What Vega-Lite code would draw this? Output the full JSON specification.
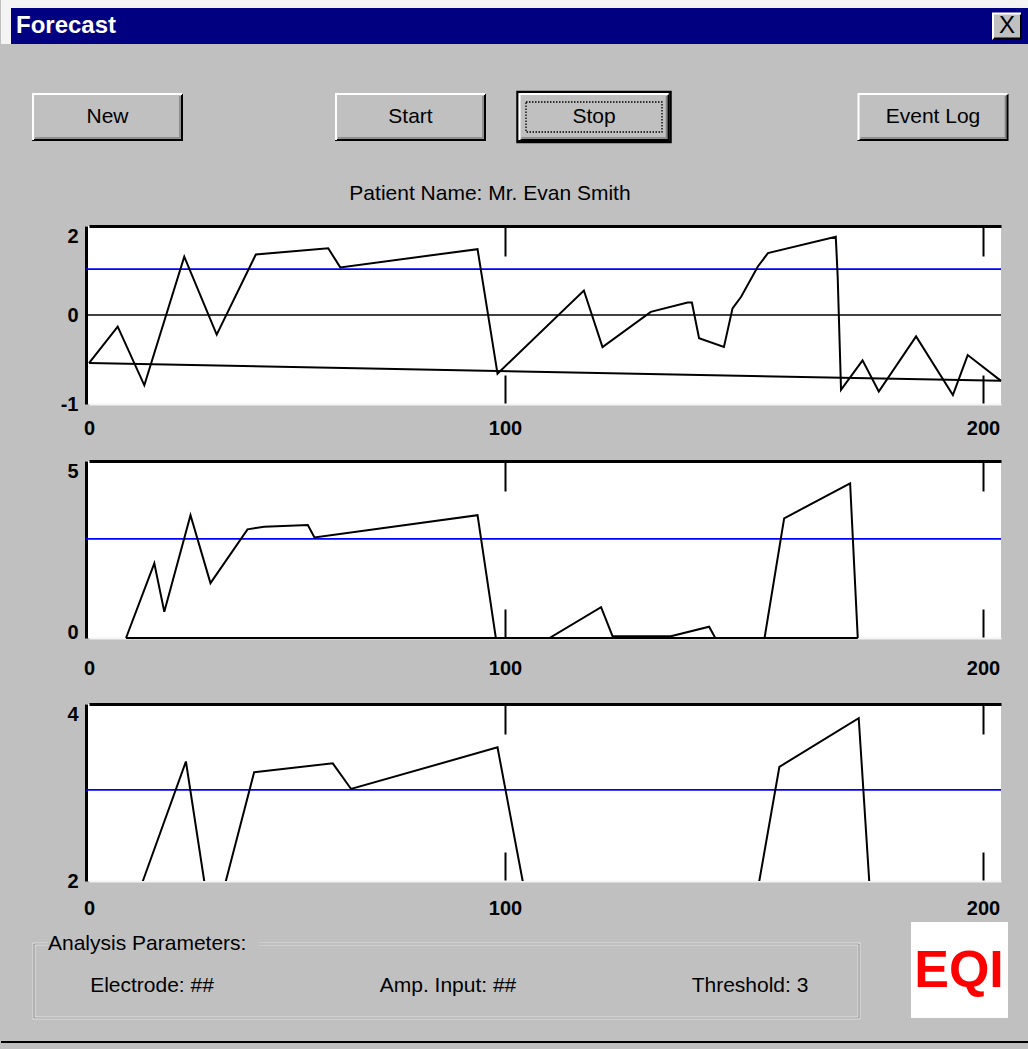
{
  "$schema": "https://vega.github.io/schema/vega-lite/v6.json",
  "padding": 0,
  "background": "#c0c0c0",
  "spacing": 0,
  "config": {
    "view": {"stroke": null},
    "font": "Liberation Sans",
    "axis": {"labelFont": "Liberation Sans", "grid": false}
  },
  "datasets": {
    "window": [{"edge": "highlight", "left": -1, "right": 8, "top": -1, "bottom": 2}],
    "titlebar": [{"caption": "Forecast", "left": 0, "right": 8, "top": 0, "bottom": 2, "col": 1, "row": 1}],
    "closebox": [{"glyph": "X", "col": 7, "row": 1}],
    "buttons": [
      {"label": "New", "col": 2, "row": 3, "state": "normal"},
      {"label": "Start", "col": 3, "row": 3, "state": "normal"},
      {"label": "Stop", "col": 5, "row": 3, "state": "focused"},
      {"label": "Event Log", "col": 6, "row": 3, "state": "normal"}
    ],
    "patient": [{"text": "Patient Name: Mr. Evan Smith", "col": 4, "row": 4}],
    "levels": [
      {"panel": 1, "kind": "zero", "level": 0},
      {"panel": 1, "kind": "threshold", "level": 1.03},
      {"panel": 2, "kind": "threshold", "level": 2.8},
      {"panel": 3, "kind": "threshold", "level": 3.03}
    ],
    "panel1": [
      {"series": "signal", "x": 0, "y": -0.54},
      {"series": "signal", "x": 6.9, "y": -0.13},
      {"series": "signal", "x": 13.3, "y": -0.79},
      {"series": "signal", "x": 22.9, "y": 1.31},
      {"series": "signal", "x": 30.7, "y": -0.22},
      {"series": "signal", "x": 40.1, "y": 1.36},
      {"series": "signal", "x": 57.5, "y": 1.5},
      {"series": "signal", "x": 60.4, "y": 1.07},
      {"series": "signal", "x": 93.4, "y": 1.48},
      {"series": "signal", "x": 98.2, "y": -0.66},
      {"series": "signal", "x": 116.5, "y": 0.55},
      {"series": "signal", "x": 120.4, "y": -0.36},
      {"series": "signal", "x": 130.5, "y": 0.07},
      {"series": "signal", "x": 138.2, "y": 0.28},
      {"series": "signal", "x": 139.1, "y": 0.28},
      {"series": "signal", "x": 140.6, "y": -0.26},
      {"series": "signal", "x": 145.8, "y": -0.36},
      {"series": "signal", "x": 147.6, "y": 0.15},
      {"series": "signal", "x": 149.4, "y": 0.41},
      {"series": "signal", "x": 152.9, "y": 1.09},
      {"series": "signal", "x": 155.0, "y": 1.39},
      {"series": "signal", "x": 169.2, "y": 1.76},
      {"series": "signal", "x": 169.6, "y": 0.86},
      {"series": "signal", "x": 170.3, "y": -0.84},
      {"series": "signal", "x": 174.8, "y": -0.51},
      {"series": "signal", "x": 178.2, "y": -0.86},
      {"series": "signal", "x": 186.0, "y": -0.24},
      {"series": "signal", "x": 193.7, "y": -0.9},
      {"series": "signal", "x": 196.8, "y": -0.45},
      {"series": "signal", "x": 203.8, "y": -0.74},
      {"series": "baseline", "x": 0, "y": -0.54},
      {"series": "baseline", "x": 98.2, "y": -0.63},
      {"series": "baseline", "x": 203.8, "y": -0.74}
    ],
    "panel2": [
      {"series": "signal", "x": 8.9, "y": 0},
      {"series": "signal", "x": 15.7, "y": 2.11},
      {"series": "signal", "x": 18.1, "y": 0.74},
      {"series": "signal", "x": 24.4, "y": 3.47},
      {"series": "signal", "x": 29.2, "y": 1.55},
      {"series": "signal", "x": 38.1, "y": 3.07},
      {"series": "signal", "x": 42.1, "y": 3.14},
      {"series": "signal", "x": 52.6, "y": 3.19},
      {"series": "signal", "x": 54.2, "y": 2.84},
      {"series": "signal", "x": 93.4, "y": 3.47},
      {"series": "signal", "x": 97.8, "y": 0},
      {"series": "signal", "x": 109.3, "y": 0},
      {"series": "signal", "x": 120.1, "y": 0.87},
      {"series": "signal", "x": 122.5, "y": 0.05},
      {"series": "signal", "x": 134.7, "y": 0.05},
      {"series": "signal", "x": 142.7, "y": 0.32},
      {"series": "signal", "x": 144.0, "y": 0},
      {"series": "signal", "x": 154.3, "y": 0},
      {"series": "signal", "x": 158.4, "y": 3.38},
      {"series": "signal", "x": 172.2, "y": 4.37},
      {"series": "signal", "x": 173.8, "y": 0},
      {"series": "baseline", "x": 8.9, "y": 0},
      {"series": "baseline", "x": 173.8, "y": 0}
    ],
    "panel3": [
      {"series": "signal", "x": 8.9, "y": 1.47},
      {"series": "signal", "x": 13.1, "y": 2.02},
      {"series": "signal", "x": 23.3, "y": 3.35},
      {"series": "signal", "x": 27.7, "y": 2.0},
      {"series": "signal", "x": 29.6, "y": 1.41},
      {"series": "signal", "x": 32.9, "y": 2.0},
      {"series": "signal", "x": 39.7, "y": 3.23},
      {"series": "signal", "x": 58.6, "y": 3.33},
      {"series": "signal", "x": 63.0, "y": 3.04},
      {"series": "signal", "x": 98.2, "y": 3.51},
      {"series": "signal", "x": 103.7, "y": 2.0},
      {"series": "signal", "x": 109.3, "y": 0.5},
      {"series": "signal", "x": 148.0, "y": 0.5},
      {"series": "signal", "x": 153.2, "y": 2.0},
      {"series": "signal", "x": 157.4, "y": 3.29},
      {"series": "signal", "x": 174.0, "y": 3.84},
      {"series": "signal", "x": 176.2, "y": 2.0},
      {"series": "signal", "x": 177.5, "y": 0.9}
    ],
    "groupbox": [{"caption": "Analysis Parameters:", "left": 1, "right": 7, "top": 1, "bottom": 4, "capLeft": 2, "capRight": 4}],
    "params": [
      {"text": "Electrode: ##", "col": 3, "row": 3},
      {"text": "Amp. Input: ##", "col": 5, "row": 3},
      {"text": "Threshold: 3", "col": 6, "row": 3}
    ],
    "logo": [{"text": "EQI", "left": 8, "right": 10, "top": 0, "bottom": 4, "col": 9, "row": 2}],
    "frame": [{"edge": "bottom", "from": 0, "to": 11, "row": 5}]
  },
  "vconcat": [
    {
      "width": 943,
      "height": 225,
      "layer": [
        {
          "data": {"name": "window"},
          "mark": {"type": "rect", "color": "#f4f4f4"},
          "encoding": {
            "x": {"field": "left", "type": "quantitative", "scale": {"domain": [-1,0,1,2,3,4,5,6,7,8], "range": [-85,-75,-70,21.5,324.5,404,508,847,921,943], "nice": false, "zero": false}, "axis": null},
            "x2": {"field": "right"},
            "y": {"field": "top", "type": "quantitative", "scale": {"domain": [-1,0,1,2,3,4], "range": [0,8,26,44,117,194], "nice": false, "zero": false}, "axis": null},
            "y2": {"field": "bottom"}
          }
        },
        {
          "data": {"name": "titlebar"},
          "mark": {"type": "rect", "color": "#000080"},
          "encoding": {
            "x": {"field": "left", "type": "quantitative", "scale": {"domain": [-1,0,1,2,3,4,5,6,7,8], "range": [-85,-75,-70,21.5,324.5,404,508,847,921,943], "nice": false, "zero": false}, "axis": null},
            "x2": {"field": "right"},
            "y": {"field": "top", "type": "quantitative", "scale": {"domain": [-1,0,1,2,3,4], "range": [0,8,26,44,117,194], "nice": false, "zero": false}, "axis": null},
            "y2": {"field": "bottom"}
          }
        },
        {
          "data": {"name": "titlebar"},
          "mark": {"type": "text", "color": "#ffffff", "fontSize": 24, "fontWeight": "bold", "align": "left", "baseline": "middle", "font": "Liberation Sans"},
          "encoding": {
            "x": {"field": "col", "type": "quantitative", "scale": {"domain": [-1,0,1,2,3,4,5,6,7,8], "range": [-85,-75,-70,21.5,324.5,404,508,847,921,943], "nice": false, "zero": false}, "axis": null},
            "y": {"field": "row", "type": "quantitative", "scale": {"domain": [-1,0,1,2,3,4], "range": [0,8,26,44,117,194], "nice": false, "zero": false}, "axis": null},
            "text": {"field": "caption"}
          }
        },
        {
          "data": {"name": "closebox"},
          "mark": {"type": "point", "shape": "M-1,-0.8929H1V0.8929H-1Z", "size": 784, "filled": true, "fill": "#c0c0c0", "strokeWidth": 0, "opacity": 1},
          "encoding": {
            "x": {"field": "col", "type": "quantitative", "scale": {"domain": [-1,0,1,2,3,4,5,6,7,8], "range": [-85,-75,-70,21.5,324.5,404,508,847,921,943], "nice": false, "zero": false}, "axis": null},
            "y": {"field": "row", "type": "quantitative", "scale": {"domain": [-1,0,1,2,3,4], "range": [0,8,26,44,117,194], "nice": false, "zero": false}, "axis": null}
          }
        },
        {
          "data": {"name": "closebox"},
          "mark": {"type": "point", "shape": "M-1,-0.8929H1V0.8929H-1Z", "size": 784, "filled": false, "stroke": "#000000", "strokeWidth": 2, "strokeDash": [53, 53], "strokeDashOffset": 78, "opacity": 1},
          "encoding": {
            "x": {"field": "col", "type": "quantitative", "scale": {"domain": [-1,0,1,2,3,4,5,6,7,8], "range": [-85,-75,-70,21.5,324.5,404,508,847,921,943], "nice": false, "zero": false}, "axis": null},
            "y": {"field": "row", "type": "quantitative", "scale": {"domain": [-1,0,1,2,3,4], "range": [0,8,26,44,117,194], "nice": false, "zero": false}, "axis": null}
          }
        },
        {
          "data": {"name": "closebox"},
          "mark": {"type": "point", "shape": "M-1,-0.8929H1V0.8929H-1Z", "size": 784, "filled": false, "stroke": "#ffffff", "strokeWidth": 2, "strokeDash": [53, 53], "strokeDashOffset": 25, "opacity": 1},
          "encoding": {
            "x": {"field": "col", "type": "quantitative", "scale": {"domain": [-1,0,1,2,3,4,5,6,7,8], "range": [-85,-75,-70,21.5,324.5,404,508,847,921,943], "nice": false, "zero": false}, "axis": null},
            "y": {"field": "row", "type": "quantitative", "scale": {"domain": [-1,0,1,2,3,4], "range": [0,8,26,44,117,194], "nice": false, "zero": false}, "axis": null}
          }
        },
        {
          "data": {"name": "closebox"},
          "mark": {"type": "text", "color": "#000000", "fontSize": 24, "align": "center", "baseline": "middle", "font": "Liberation Sans"},
          "encoding": {
            "x": {"field": "col", "type": "quantitative", "scale": {"domain": [-1,0,1,2,3,4,5,6,7,8], "range": [-85,-75,-70,21.5,324.5,404,508,847,921,943], "nice": false, "zero": false}, "axis": null},
            "y": {"field": "row", "type": "quantitative", "scale": {"domain": [-1,0,1,2,3,4], "range": [0,8,26,44,117,194], "nice": false, "zero": false}, "axis": null},
            "text": {"field": "glyph"}
          }
        },
        {
          "data": {"name": "buttons"},
          "transform": [{"filter": "datum.state == 'focused'"}],
          "mark": {"type": "point", "shape": "M-1,-0.3268H1V0.3268H-1Z", "size": 23409, "filled": false, "stroke": "#000000", "strokeWidth": 2.5, "opacity": 1},
          "encoding": {
            "x": {"field": "col", "type": "quantitative", "scale": {"domain": [-1,0,1,2,3,4,5,6,7,8], "range": [-85,-75,-70,21.5,324.5,404,508,847,921,943], "nice": false, "zero": false}, "axis": null},
            "y": {"field": "row", "type": "quantitative", "scale": {"domain": [-1,0,1,2,3,4], "range": [0,8,26,44,117,194], "nice": false, "zero": false}, "axis": null}
          }
        },
        {
          "data": {"name": "buttons"},
          "mark": {"type": "point", "shape": "M-1,-0.3087H1V0.3087H-1Z", "size": 22201, "filled": true, "fill": "#c0c0c0", "strokeWidth": 0, "opacity": 1},
          "encoding": {
            "x": {"field": "col", "type": "quantitative", "scale": {"domain": [-1,0,1,2,3,4,5,6,7,8], "range": [-85,-75,-70,21.5,324.5,404,508,847,921,943], "nice": false, "zero": false}, "axis": null},
            "y": {"field": "row", "type": "quantitative", "scale": {"domain": [-1,0,1,2,3,4], "range": [0,8,26,44,117,194], "nice": false, "zero": false}, "axis": null}
          }
        },
        {
          "data": {"name": "buttons"},
          "mark": {"type": "point", "shape": "M-1,-0.2897H1V0.2897H-1Z", "size": 21025, "filled": false, "stroke": "#808080", "strokeWidth": 1.5, "strokeDash": [187, 187], "strokeDashOffset": 229, "opacity": 1},
          "encoding": {
            "x": {"field": "col", "type": "quantitative", "scale": {"domain": [-1,0,1,2,3,4,5,6,7,8], "range": [-85,-75,-70,21.5,324.5,404,508,847,921,943], "nice": false, "zero": false}, "axis": null},
            "y": {"field": "row", "type": "quantitative", "scale": {"domain": [-1,0,1,2,3,4], "range": [0,8,26,44,117,194], "nice": false, "zero": false}, "axis": null}
          }
        },
        {
          "data": {"name": "buttons"},
          "mark": {"type": "point", "shape": "M-1,-0.3087H1V0.3087H-1Z", "size": 22201, "filled": false, "stroke": "#000000", "strokeWidth": 2, "strokeDash": [195, 195], "strokeDashOffset": 241, "opacity": 1},
          "encoding": {
            "x": {"field": "col", "type": "quantitative", "scale": {"domain": [-1,0,1,2,3,4,5,6,7,8], "range": [-85,-75,-70,21.5,324.5,404,508,847,921,943], "nice": false, "zero": false}, "axis": null},
            "y": {"field": "row", "type": "quantitative", "scale": {"domain": [-1,0,1,2,3,4], "range": [0,8,26,44,117,194], "nice": false, "zero": false}, "axis": null}
          }
        },
        {
          "data": {"name": "buttons"},
          "mark": {"type": "point", "shape": "M-1,-0.3087H1V0.3087H-1Z", "size": 22201, "filled": false, "stroke": "#ffffff", "strokeWidth": 2, "strokeDash": [195, 195], "strokeDashOffset": 46, "opacity": 1},
          "encoding": {
            "x": {"field": "col", "type": "quantitative", "scale": {"domain": [-1,0,1,2,3,4,5,6,7,8], "range": [-85,-75,-70,21.5,324.5,404,508,847,921,943], "nice": false, "zero": false}, "axis": null},
            "y": {"field": "row", "type": "quantitative", "scale": {"domain": [-1,0,1,2,3,4], "range": [0,8,26,44,117,194], "nice": false, "zero": false}, "axis": null}
          }
        },
        {
          "data": {"name": "buttons"},
          "transform": [{"filter": "datum.state == 'focused'"}],
          "mark": {"type": "point", "shape": "M-1,-0.2206H1V0.2206H-1Z", "size": 18496, "filled": false, "stroke": "#000000", "strokeWidth": 1.3, "strokeDash": [1.5, 1.5], "opacity": 1},
          "encoding": {
            "x": {"field": "col", "type": "quantitative", "scale": {"domain": [-1,0,1,2,3,4,5,6,7,8], "range": [-85,-75,-70,21.5,324.5,404,508,847,921,943], "nice": false, "zero": false}, "axis": null},
            "y": {"field": "row", "type": "quantitative", "scale": {"domain": [-1,0,1,2,3,4], "range": [0,8,26,44,117,194], "nice": false, "zero": false}, "axis": null}
          }
        },
        {
          "data": {"name": "buttons"},
          "mark": {"type": "text", "color": "#000000", "fontSize": 21, "align": "center", "baseline": "middle", "font": "Liberation Sans"},
          "encoding": {
            "x": {"field": "col", "type": "quantitative", "scale": {"domain": [-1,0,1,2,3,4,5,6,7,8], "range": [-85,-75,-70,21.5,324.5,404,508,847,921,943], "nice": false, "zero": false}, "axis": null},
            "y": {"field": "row", "type": "quantitative", "scale": {"domain": [-1,0,1,2,3,4], "range": [0,8,26,44,117,194], "nice": false, "zero": false}, "axis": null},
            "text": {"field": "label"}
          }
        },
        {
          "data": {"name": "patient"},
          "mark": {"type": "text", "color": "#000000", "fontSize": 21, "align": "center", "baseline": "middle", "font": "Liberation Sans"},
          "encoding": {
            "x": {"field": "col", "type": "quantitative", "scale": {"domain": [-1,0,1,2,3,4,5,6,7,8], "range": [-85,-75,-70,21.5,324.5,404,508,847,921,943], "nice": false, "zero": false}, "axis": null},
            "y": {"field": "row", "type": "quantitative", "scale": {"domain": [-1,0,1,2,3,4], "range": [0,8,26,44,117,194], "nice": false, "zero": false}, "axis": null},
            "text": {"field": "text"}
          }
        }
      ]
    },
    {
      "width": 915,
      "height": 178,
      "view": {"fill": "#ffffff", "stroke": null},
      "resolve": {"axis": {"x": "independent"}},
      "layer": [
        {
          "data": {"name": "levels"},
          "transform": [{"filter": "datum.panel == 1"}],
          "mark": {"type": "rule", "strokeWidth": 1.6},
          "encoding": {
            "y": {"field": "level", "type": "quantitative", "scale": {"domain": [-1, 0, 2], "range": [178, 89, 0], "nice": false, "zero": false},
              "axis": {"orient": "left", "values": [-1, 0, 2], "labelExpr": "datum.value < 0 ? '-' + abs(datum.value) : datum.label", "title": null, "grid": false, "ticks": false, "domain": true, "domainColor": "#000000", "domainWidth": 3, "labelFontSize": 20, "labelFontWeight": "bold", "labelColor": "#000000", "labelPadding": 8, "labelFlush": false, "labelOverlap": false, "labelBaseline": {"condition": {"test": "datum.value == 2", "value": "top"}, "value": "middle"}, "minExtent": 85, "maxExtent": 85}},
            "color": {"field": "kind", "type": "nominal", "scale": {"domain": ["threshold", "zero"], "range": ["#0000ff", "#000000"]}, "legend": null}
          }
        },
        {
          "data": {"name": "panel1"},
          "mark": {"type": "line", "color": "#000000", "strokeWidth": 2},
          "encoding": {
            "x": {"field": "x", "type": "quantitative", "scale": {"domain": [0, 100, 200, 203.8], "range": [3, 419, 897, 915], "nice": false, "zero": false},
              "axis": {"orient": "bottom", "values": [0, 100, 200], "title": null, "grid": false, "tickSize": -29, "tickWidth": 2, "tickColor": "#000000", "tickOpacity": {"condition": {"test": "datum.value == 0", "value": 0}, "value": 1}, "labelFontSize": 20, "labelFontWeight": "bold", "labelColor": "#000000", "labelPadding": 43, "labelFlush": false, "labelOverlap": false, "domain": true, "domainColor": "#f4f4f4", "domainWidth": 2, "minExtent": 56, "maxExtent": 56}},
            "y": {"field": "y", "type": "quantitative", "scale": {"domain": [-1, 0, 2], "range": [178, 89, 0], "nice": false, "zero": false},
              "axis": {"orient": "left", "values": [-1, 0, 2], "labelExpr": "datum.value < 0 ? '-' + abs(datum.value) : datum.label", "title": null, "grid": false, "ticks": false, "domain": true, "domainColor": "#000000", "domainWidth": 3, "labelFontSize": 20, "labelFontWeight": "bold", "labelColor": "#000000", "labelPadding": 8, "labelFlush": false, "labelOverlap": false, "labelBaseline": {"condition": {"test": "datum.value == 2", "value": "top"}, "value": "middle"}, "minExtent": 85, "maxExtent": 85}},
            "detail": {"field": "series", "type": "nominal"}
          }
        },
        {
          "data": {"name": "panel1"},
          "mark": {"type": "point", "opacity": 0},
          "encoding": {
            "x": {"field": "x", "type": "quantitative", "scale": {"domain": [0, 100, 200, 203.8], "range": [3, 419, 897, 915], "nice": false, "zero": false},
              "axis": {"orient": "top", "values": [100, 200], "title": null, "grid": false, "labels": false, "ticks": true, "tickSize": -30, "tickWidth": 2, "tickColor": "#000000", "domain": true, "domainColor": "#000000", "domainWidth": 3, "minExtent": 0, "maxExtent": 0}}
          }
        }
      ]
    },
    {
      "width": 915,
      "height": 177,
      "view": {"fill": "#ffffff", "stroke": null},
      "resolve": {"axis": {"x": "independent"}},
      "layer": [
        {
          "data": {"name": "levels"},
          "transform": [{"filter": "datum.panel == 2"}],
          "mark": {"type": "rule", "strokeWidth": 1.6},
          "encoding": {
            "y": {"field": "level", "type": "quantitative", "scale": {"domain": [0, 5], "nice": false, "zero": false},
              "axis": {"orient": "left", "values": [0, 5], "title": null, "grid": false, "ticks": false, "domain": true, "domainColor": "#000000", "domainWidth": 3, "labelFontSize": 20, "labelFontWeight": "bold", "labelColor": "#000000", "labelPadding": 8, "labelFlush": false, "labelOverlap": false, "labelBaseline": {"condition": {"test": "datum.value == 5", "value": "top"}, "value": "alphabetic"}, "minExtent": 85, "maxExtent": 85}},
            "color": {"field": "kind", "type": "nominal", "scale": {"domain": ["threshold", "zero"], "range": ["#0000ff", "#000000"]}, "legend": null}
          }
        },
        {
          "data": {"name": "panel2"},
          "mark": {"type": "line", "color": "#000000", "strokeWidth": 2},
          "encoding": {
            "x": {"field": "x", "type": "quantitative", "scale": {"domain": [0, 100, 200, 203.8], "range": [3, 419, 897, 915], "nice": false, "zero": false},
              "axis": {"orient": "bottom", "values": [0, 100, 200], "title": null, "grid": false, "tickSize": -29, "tickWidth": 2, "tickColor": "#000000", "tickOpacity": {"condition": {"test": "datum.value == 0", "value": 0}, "value": 1}, "labelFontSize": 20, "labelFontWeight": "bold", "labelColor": "#000000", "labelPadding": 49, "labelFlush": false, "labelOverlap": false, "domain": true, "domainColor": "#f4f4f4", "domainWidth": 2, "minExtent": 65, "maxExtent": 65}},
            "y": {"field": "y", "type": "quantitative", "scale": {"domain": [0, 5], "nice": false, "zero": false},
              "axis": {"orient": "left", "values": [0, 5], "title": null, "grid": false, "ticks": false, "domain": true, "domainColor": "#000000", "domainWidth": 3, "labelFontSize": 20, "labelFontWeight": "bold", "labelColor": "#000000", "labelPadding": 8, "labelFlush": false, "labelOverlap": false, "labelBaseline": {"condition": {"test": "datum.value == 5", "value": "top"}, "value": "alphabetic"}, "minExtent": 85, "maxExtent": 85}},
            "detail": {"field": "series", "type": "nominal"}
          }
        },
        {
          "data": {"name": "panel2"},
          "mark": {"type": "point", "opacity": 0},
          "encoding": {
            "x": {"field": "x", "type": "quantitative", "scale": {"domain": [0, 100, 200, 203.8], "range": [3, 419, 897, 915], "nice": false, "zero": false},
              "axis": {"orient": "top", "values": [100, 200], "title": null, "grid": false, "labels": false, "ticks": true, "tickSize": -30, "tickWidth": 2, "tickColor": "#000000", "domain": true, "domainColor": "#000000", "domainWidth": 3, "minExtent": 0, "maxExtent": 0}}
          }
        }
      ]
    },
    {
      "width": 915,
      "height": 177,
      "view": {"fill": "#ffffff", "stroke": null},
      "resolve": {"axis": {"x": "independent"}},
      "layer": [
        {
          "data": {"name": "levels"},
          "transform": [{"filter": "datum.panel == 3"}],
          "mark": {"type": "rule", "strokeWidth": 1.6},
          "encoding": {
            "y": {"field": "level", "type": "quantitative", "scale": {"domain": [2, 4], "nice": false, "zero": false},
              "axis": {"orient": "left", "values": [2, 4], "title": null, "grid": false, "ticks": false, "domain": true, "domainColor": "#000000", "domainWidth": 3, "labelFontSize": 20, "labelFontWeight": "bold", "labelColor": "#000000", "labelPadding": 8, "labelFlush": false, "labelOverlap": false, "labelBaseline": {"condition": {"test": "datum.value == 4", "value": "top"}, "value": "middle"}, "minExtent": 85, "maxExtent": 85}},
            "color": {"field": "kind", "type": "nominal", "scale": {"domain": ["threshold", "zero"], "range": ["#0000ff", "#000000"]}, "legend": null}
          }
        },
        {
          "data": {"name": "panel3"},
          "mark": {"type": "line", "color": "#000000", "strokeWidth": 2, "clip": true},
          "encoding": {
            "x": {"field": "x", "type": "quantitative", "scale": {"domain": [0, 100, 200, 203.8], "range": [3, 419, 897, 915], "nice": false, "zero": false},
              "axis": {"orient": "bottom", "values": [0, 100, 200], "title": null, "grid": false, "tickSize": -29, "tickWidth": 2, "tickColor": "#000000", "tickOpacity": {"condition": {"test": "datum.value == 0", "value": 0}, "value": 1}, "labelFontSize": 20, "labelFontWeight": "bold", "labelColor": "#000000", "labelPadding": 46, "labelFlush": false, "labelOverlap": false, "domain": true, "domainColor": "#f4f4f4", "domainWidth": 2, "minExtent": 41, "maxExtent": 41}},
            "y": {"field": "y", "type": "quantitative", "scale": {"domain": [2, 4], "nice": false, "zero": false},
              "axis": {"orient": "left", "values": [2, 4], "title": null, "grid": false, "ticks": false, "domain": true, "domainColor": "#000000", "domainWidth": 3, "labelFontSize": 20, "labelFontWeight": "bold", "labelColor": "#000000", "labelPadding": 8, "labelFlush": false, "labelOverlap": false, "labelBaseline": {"condition": {"test": "datum.value == 4", "value": "top"}, "value": "middle"}, "minExtent": 85, "maxExtent": 85}},
            "detail": {"field": "series", "type": "nominal"}
          }
        },
        {
          "data": {"name": "panel3"},
          "mark": {"type": "point", "opacity": 0},
          "encoding": {
            "x": {"field": "x", "type": "quantitative", "scale": {"domain": [0, 100, 200, 203.8], "range": [3, 419, 897, 915], "nice": false, "zero": false},
              "axis": {"orient": "top", "values": [100, 200], "title": null, "grid": false, "labels": false, "ticks": true, "tickSize": -30, "tickWidth": 2, "tickColor": "#000000", "domain": true, "domainColor": "#000000", "domainWidth": 3, "minExtent": 0, "maxExtent": 0}}
          }
        }
      ]
    },
    {
      "width": 943,
      "height": 128,
      "layer": [
        {
          "data": {"name": "groupbox"},
          "mark": {"type": "rect", "fillOpacity": 0, "stroke": "#ffffff", "strokeWidth": 2.5},
          "encoding": {
            "x": {"field": "left", "type": "quantitative", "scale": {"domain": [0,1,2,3,4,5,6,7,8,9,10,11], "range": [-85,-52,-38,66,173,362,664,773,825,873,922,943], "nice": false, "zero": false}, "axis": null},
            "x2": {"field": "right"},
            "y": {"field": "top", "type": "quantitative", "scale": {"domain": [0,1,2,3,4,5], "range": [0,22,49,64,96,120], "nice": false, "zero": false}, "axis": null},
            "y2": {"field": "bottom"}
          }
        },
        {
          "data": {"name": "groupbox"},
          "mark": {"type": "rect", "fillOpacity": 0, "stroke": "#808080", "strokeWidth": 1.2},
          "encoding": {
            "x": {"field": "left", "type": "quantitative", "scale": {"domain": [0,1,2,3,4,5,6,7,8,9,10,11], "range": [-85,-52,-38,66,173,362,664,773,825,873,922,943], "nice": false, "zero": false}, "axis": null},
            "x2": {"field": "right"},
            "y": {"field": "top", "type": "quantitative", "scale": {"domain": [0,1,2,3,4,5], "range": [0,22,49,64,96,120], "nice": false, "zero": false}, "axis": null},
            "y2": {"field": "bottom"}
          }
        },
        {
          "data": {"name": "groupbox"},
          "mark": {"type": "rule", "color": "#c0c0c0", "strokeWidth": 6},
          "encoding": {
            "x": {"field": "capLeft", "type": "quantitative", "scale": {"domain": [0,1,2,3,4,5,6,7,8,9,10,11], "range": [-85,-52,-38,66,173,362,664,773,825,873,922,943], "nice": false, "zero": false}, "axis": null},
            "x2": {"field": "capRight"},
            "y": {"field": "top", "type": "quantitative", "scale": {"domain": [0,1,2,3,4,5], "range": [0,22,49,64,96,120], "nice": false, "zero": false}, "axis": null}
          }
        },
        {
          "data": {"name": "groupbox"},
          "mark": {"type": "text", "color": "#000000", "fontSize": 21, "align": "left", "baseline": "middle", "font": "Liberation Sans"},
          "encoding": {
            "x": {"field": "capLeft", "type": "quantitative", "scale": {"domain": [0,1,2,3,4,5,6,7,8,9,10,11], "range": [-85,-52,-38,66,173,362,664,773,825,873,922,943], "nice": false, "zero": false}, "axis": null},
            "y": {"field": "top", "type": "quantitative", "scale": {"domain": [0,1,2,3,4,5], "range": [0,22,49,64,96,120], "nice": false, "zero": false}, "axis": null},
            "text": {"field": "caption"}
          }
        },
        {
          "data": {"name": "params"},
          "mark": {"type": "text", "color": "#000000", "fontSize": 21, "align": "center", "baseline": "middle", "font": "Liberation Sans"},
          "encoding": {
            "x": {"field": "col", "type": "quantitative", "scale": {"domain": [0,1,2,3,4,5,6,7,8,9,10,11], "range": [-85,-52,-38,66,173,362,664,773,825,873,922,943], "nice": false, "zero": false}, "axis": null},
            "y": {"field": "row", "type": "quantitative", "scale": {"domain": [0,1,2,3,4,5], "range": [0,22,49,64,96,120], "nice": false, "zero": false}, "axis": null},
            "text": {"field": "text"}
          }
        },
        {
          "data": {"name": "logo"},
          "mark": {"type": "rect", "color": "#ffffff"},
          "encoding": {
            "x": {"field": "left", "type": "quantitative", "scale": {"domain": [0,1,2,3,4,5,6,7,8,9,10,11], "range": [-85,-52,-38,66,173,362,664,773,825,873,922,943], "nice": false, "zero": false}, "axis": null},
            "x2": {"field": "right"},
            "y": {"field": "top", "type": "quantitative", "scale": {"domain": [0,1,2,3,4,5], "range": [0,22,49,64,96,120], "nice": false, "zero": false}, "axis": null},
            "y2": {"field": "bottom"}
          }
        },
        {
          "data": {"name": "logo"},
          "mark": {"type": "text", "color": "#ff0000", "fontSize": 52, "fontWeight": "bold", "align": "center", "baseline": "middle", "font": "Liberation Sans"},
          "encoding": {
            "x": {"field": "col", "type": "quantitative", "scale": {"domain": [0,1,2,3,4,5,6,7,8,9,10,11], "range": [-85,-52,-38,66,173,362,664,773,825,873,922,943], "nice": false, "zero": false}, "axis": null},
            "y": {"field": "row", "type": "quantitative", "scale": {"domain": [0,1,2,3,4,5], "range": [0,22,49,64,96,120], "nice": false, "zero": false}, "axis": null},
            "text": {"field": "text"}
          }
        },
        {
          "data": {"name": "frame"},
          "mark": {"type": "rule", "color": "#000000", "strokeWidth": 2},
          "encoding": {
            "x": {"field": "from", "type": "quantitative", "scale": {"domain": [0,1,2,3,4,5,6,7,8,9,10,11], "range": [-85,-52,-38,66,173,362,664,773,825,873,922,943], "nice": false, "zero": false}, "axis": null},
            "x2": {"field": "to"},
            "y": {"field": "row", "type": "quantitative", "scale": {"domain": [0,1,2,3,4,5], "range": [0,22,49,64,96,120], "nice": false, "zero": false}, "axis": null}
          }
        }
      ]
    }
  ]
}
